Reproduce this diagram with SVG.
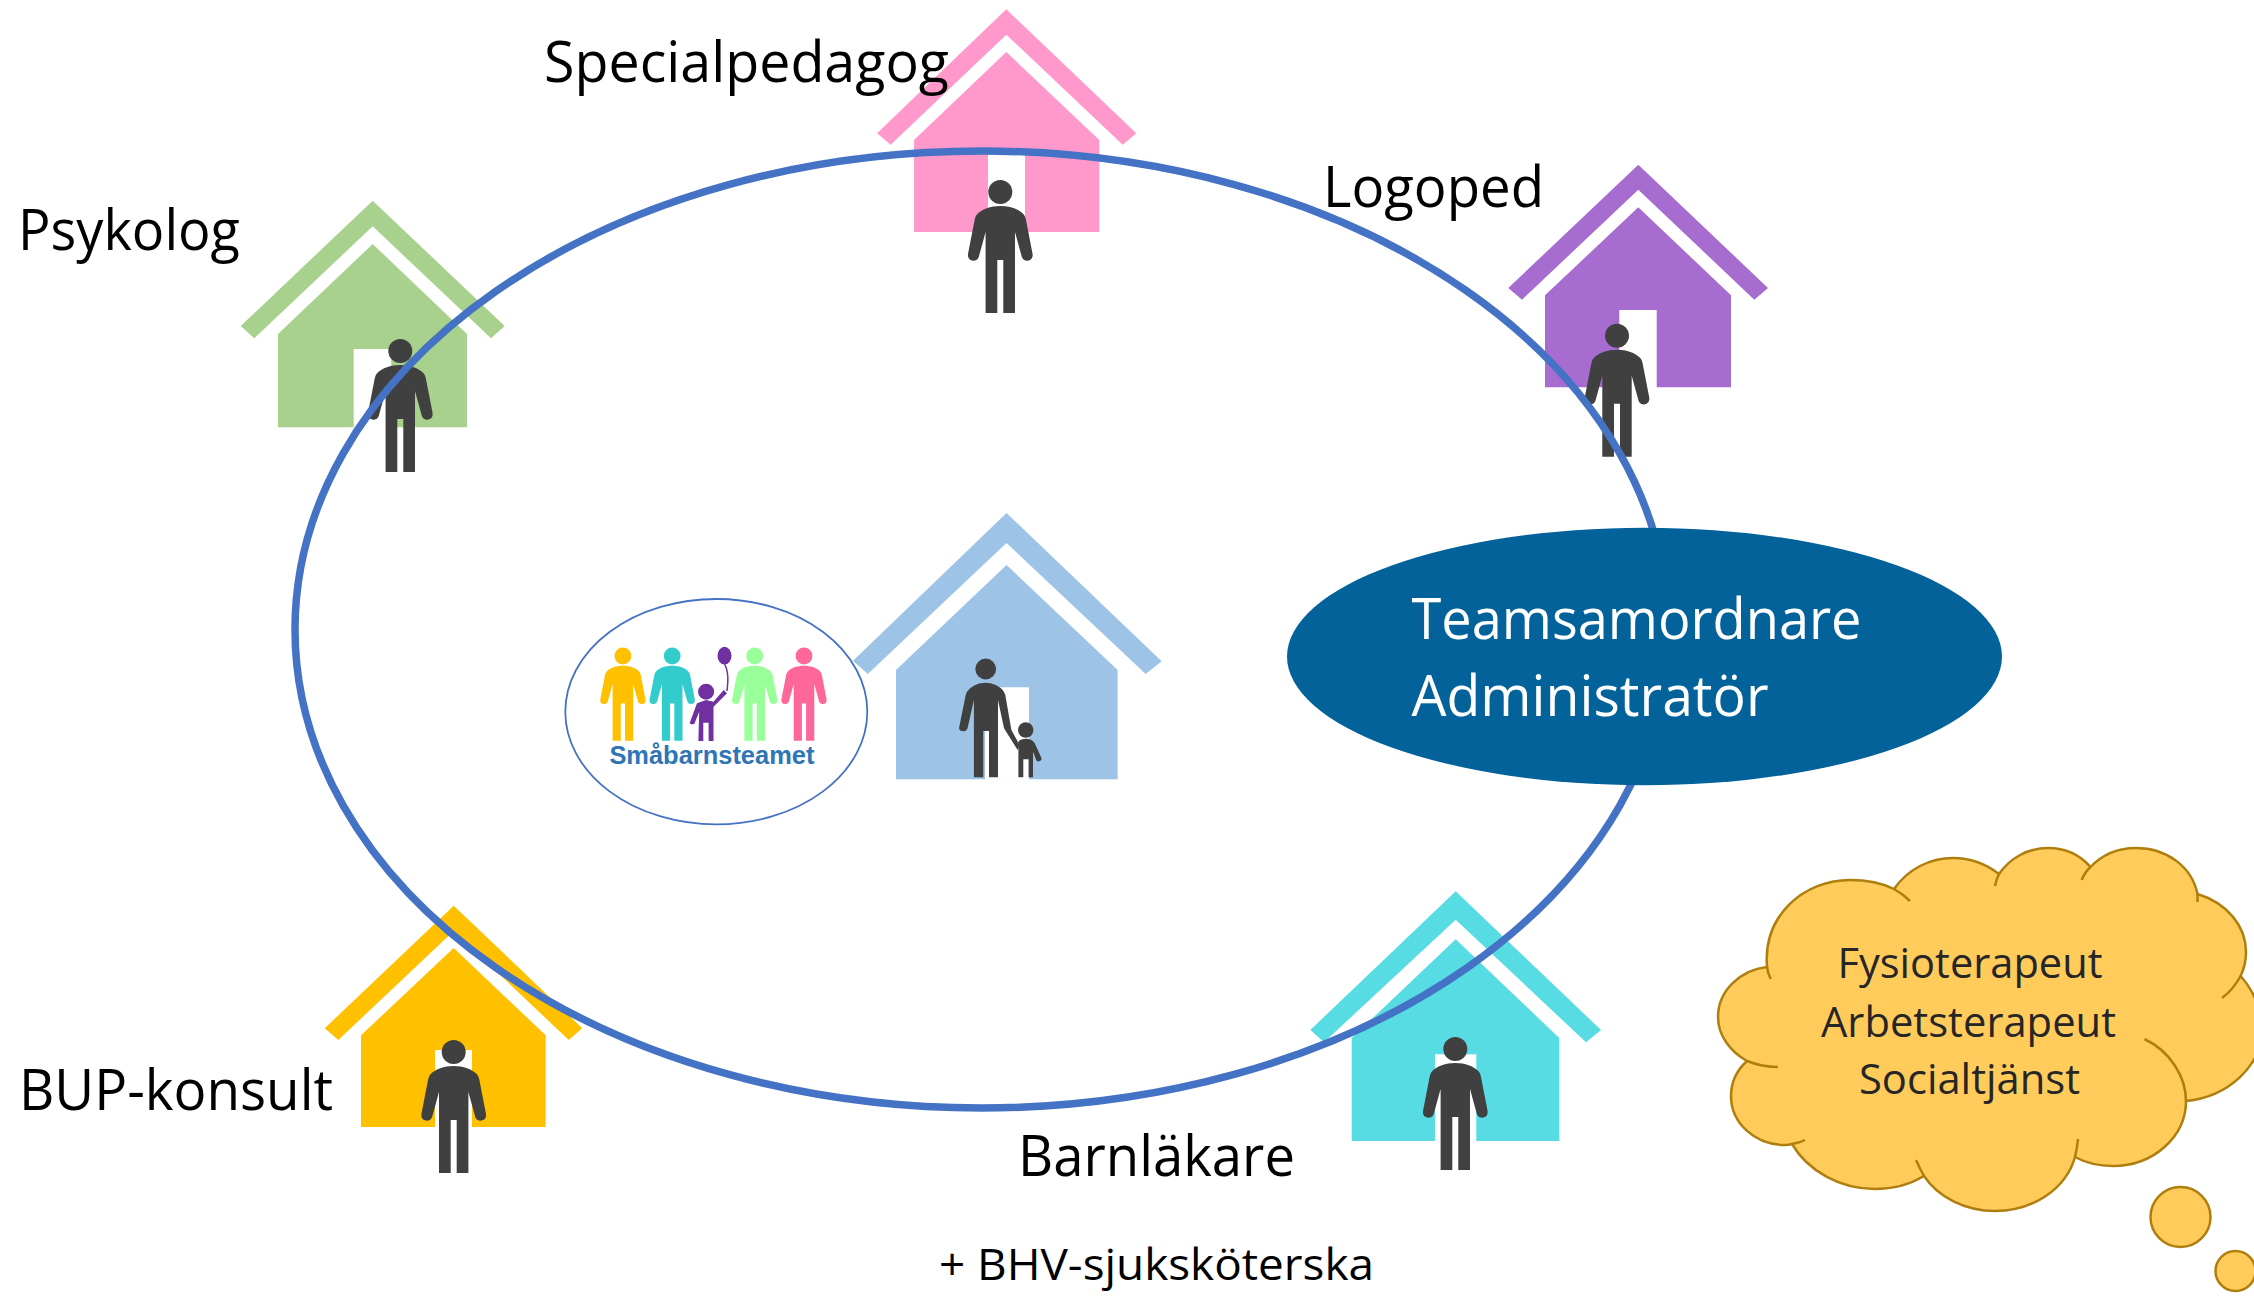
<svg xmlns="http://www.w3.org/2000/svg" xmlns:xlink="http://www.w3.org/1999/xlink" width="2254" height="1297" viewBox="0 0 2254 1297">
<style>
text{font-family:"Open Sans","Liberation Sans",sans-serif;}
.lab{font-size:56px;fill:#000;}
.cloudt{font-size:42px;fill:#262626;}
.white{font-size:56px;fill:#fff;}
.dark{fill:#404040;}
.cl{fill:none;stroke:#AE7F0E;stroke-width:2.5;}
</style>
<defs>
<g id="person"><circle r="12" cx="0" cy="0"/><path d="M0,14C-10,14-18,17-23,22Q-25,24-25.5,27L-32.3,62Q-33,68-27,68.7Q-22,69-21,63L-14.7,40V121H-3V68H3V121H14.7V40L21,63Q22,69 27,68.7Q33,68 32.3,62L25.5,27Q25,24 23,22C18,17 10,14 0,14Z"/></g>
</defs>
<rect width="2254" height="1297" fill="#fff"/>
<g id="node-specialpedagog">
<polygon fill="#FF99CC" points="1006.3,9.3 1136.3,133.3 1122.7,144.7 1006.3,34.7 890.7,144.7 877,133.3"/>
<path fill="#FF99CC" d="M1006.3,52L1099.3,140V232H914V140Z"/>
<rect x="988" y="153" width="37" height="80" fill="#fff"/>
<use xlink:href="#person" href="#person" class="dark" transform="translate(1000.3,192)"/>
</g>
<g id="node-psykolog">
<polygon fill="#A9D18E" points="372.7,200.7 504.7,326 491,338.3 372.7,226.3 254.3,338.3 240.7,326"/>
<path fill="#A9D18E" d="M372.7,244L467,334V427.2H278V334Z"/>
<rect x="353.7" y="349" width="37.5" height="79" fill="#fff"/>
<use xlink:href="#person" href="#person" class="dark" transform="translate(400.3,351)"/>
</g>
<g id="node-logoped">
<polygon fill="#A66CCF" points="1638.3,164.7 1768,288 1754.3,299.7 1638.3,189.7 1522,299.7 1508.3,288"/>
<path fill="#A66CCF" d="M1638.3,207.3L1731,295.3V387.3H1545V295.3Z"/>
<rect x="1619.3" y="310" width="37.4" height="78" fill="#fff"/>
<use xlink:href="#person" href="#person" class="dark" transform="translate(1617,335.7)"/>
</g>
<g id="node-bup">
<polygon fill="#FFC000" points="453.7,905.7 582.3,1028.3 568.7,1040 453.7,931 338.3,1040 324.7,1028.3"/>
<path fill="#FFC000" d="M453.7,948L545.7,1035.3V1127H361V1035.3Z"/>
<rect x="435" y="1050" width="37" height="77.5" fill="#fff"/>
<use xlink:href="#person" href="#person" class="dark" transform="translate(453.7,1052)"/>
</g>
<g id="node-barnlakare">
<polygon fill="#57DCE3" points="1455.7,891.3 1601,1030 1586,1042.3 1455.7,919.7 1324,1042.3 1310.3,1030"/>
<path fill="#57DCE3" d="M1455.7,939.3L1559.3,1038V1141H1351.7V1038Z"/>
<rect x="1435" y="1054.3" width="41.3" height="87" fill="#fff"/>
<use xlink:href="#person" href="#person" class="dark" transform="translate(1455.3,1049)"/>
</g>
<g id="node-center">
<polygon fill="#9DC3E6" points="1006.5,513 1161.6,661.3 1145.7,674 1006.5,543 867.8,674 853,660.7"/>
<path fill="#9DC3E6" d="M1006.5,565L1117.6,670V779.3H896V670Z"/>
<rect x="985" y="687.3" width="44" height="92.5" fill="#fff"/>
<g class="dark">
<circle cx="985.7" cy="669" r="10.4"/>
<path d="M985.7,682.7C978,682.7 972,686 968.6,690Q966,692 965.7,695L959.2,727.3Q958.5,731 963.7,731.3Q967,731 967.8,727.3L973.9,700V777.3H983.3V731H989V777.3H998V700L1004,728.3L1017.6,750L1019.6,745L1011.4,730L1005.3,695Q1004.5,692 1002,689.3C999,686 992,682.7 985.7,682.7Z"/>
<circle cx="1025.7" cy="730" r="7.7"/>
<path d="M1025.7,738.7C1029,738.7 1033,740 1034.7,743.3L1041.6,758.3Q1041.5,761 1038.5,761.5Q1037,761.5 1036.2,760L1033,751.7V777.3H1028.6V759.3H1023.3V777.3H1018.4V741.7C1020,739.5 1023,738.7 1025.7,738.7Z"/>
</g>
</g>
<g id="connectors">
<ellipse cx="981.5" cy="629.5" rx="686.5" ry="478.5" fill="none" stroke="#4472C4" stroke-width="7.5"/>
</g>
<g id="node-logo">
<ellipse cx="716.3" cy="711.7" rx="151" ry="112.7" fill="#fff" stroke="#4472C4" stroke-width="1.8"/>
<use xlink:href="#person" href="#person" fill="#FFC000" transform="translate(622.9,656) scale(.7)"/>
<use xlink:href="#person" href="#person" fill="#33CCCC" transform="translate(672.2,656) scale(.7)"/>
<use xlink:href="#person" href="#person" fill="#99FF99" transform="translate(754.7,656) scale(.7)"/>
<use xlink:href="#person" href="#person" fill="#FF6699" transform="translate(804,656) scale(.7)"/>
<g fill="#7030A0">
<circle cx="706.1" cy="691.7" r="8"/>
<ellipse cx="724.5" cy="655.7" rx="7" ry="8.9"/>
<path d="M724.5,664C729,672 728,682 727,691" fill="none" stroke="#7030A0" stroke-width="1.5"/>
<path d="M706,700L697,703.3L689.8,722.7Q690,725 694.3,724L699.2,711.7L698.4,741H703.3V722.7H708.6V741H713.5V706.7L727,693.3L723.7,690L713.5,701.7Z"/>
</g>
<text x="609.4" y="764.3" font-size="25" font-weight="700" fill="#2E75B6" style="font-family:'Liberation Sans',Arial,sans-serif" textLength="205" lengthAdjust="spacingAndGlyphs">Småbarnsteamet</text>
</g>
<g id="node-teamsamordnare">
<ellipse cx="1644.5" cy="656.5" rx="357.5" ry="128.7" fill="#03629A"/>
<text class="white" x="1411.5" y="639" textLength="450" lengthAdjust="spacingAndGlyphs">Teamsamordnare</text>
<text class="white" x="1411.5" y="716" textLength="357" lengthAdjust="spacingAndGlyphs">Administratör</text>
</g>
<g id="node-cloud">
<path fill="#FFCC5C" stroke="#AE7F0E" stroke-width="2.5" d="M1767,967C1763,914 1805,880 1850,880C1867,880 1882,883 1894,889C1908,869 1930,858 1953,858C1970,858 1986,864 1999,874C2010,858 2028,848 2048,848C2065,848 2080,855 2090.5,867C2102,855 2118,848 2136,848C2167,848 2192,867 2197.5,894C2227,903 2246,926 2246,952C2246,961 2244,969 2240.6,976C2254,991 2262,1011 2262,1029C2262,1066 2228,1097 2186,1101C2186,1137 2153,1166 2113,1166C2100,1166 2086,1163 2075,1157C2066,1189 2033,1211 1995,1211C1965,1211 1938,1197 1924,1176C1909,1185 1893,1189 1875,1189C1840,1189 1808,1171 1792,1144C1789,1145 1787,1145 1785,1145C1755,1145 1731,1123 1731,1096C1731,1082 1737,1070 1747,1061C1731,1052 1718,1036 1718,1017C1718,991 1740,970 1767,967Z"/>
<path class="cl" d="M1767,967Q1768,974 1770.7,979M1894,889Q1903,894 1910,901M1999,874Q1996,880 1995,886M2090.5,867Q2085,872 2081.6,880M2197.5,894V902M2240.6,976Q2233,990 2222,998M2144.5,1039C2170,1051 2186,1077 2186,1101M2075,1157Q2077,1149 2078,1139M1924,1176Q1920,1169 1916,1160M1792,1144Q1799,1143 1805,1140M1747,1061Q1762,1067 1778,1067"/>
<circle cx="2180.5" cy="1217" r="30" fill="#FFCC5C" stroke="#AE7F0E" stroke-width="2.5"/>
<circle cx="2235.5" cy="1271" r="20" fill="#FFCC5C" stroke="#AE7F0E" stroke-width="2.5"/>
<text class="cloudt" x="1837.5" y="978" textLength="265" lengthAdjust="spacingAndGlyphs">Fysioterapeut</text>
<text class="cloudt" x="1821" y="1036.5" textLength="295" lengthAdjust="spacingAndGlyphs">Arbetsterapeut</text>
<text class="cloudt" x="1859" y="1094" textLength="221" lengthAdjust="spacingAndGlyphs">Socialtjänst</text>
</g>
<g id="labels">
<text class="lab" x="544" y="82" textLength="405" lengthAdjust="spacingAndGlyphs">Specialpedagog</text>
<text class="lab" x="18" y="250" textLength="222" lengthAdjust="spacingAndGlyphs">Psykolog</text>
<text class="lab" x="1323" y="207" textLength="221" lengthAdjust="spacingAndGlyphs">Logoped</text>
<text class="lab" x="19" y="1110" textLength="314" lengthAdjust="spacingAndGlyphs">BUP-konsult</text>
<text class="lab" x="1018" y="1176" textLength="277" lengthAdjust="spacingAndGlyphs">Barnläkare</text>
<text class="lab" x="939" y="1280" style="font-size:44px" textLength="435" lengthAdjust="spacingAndGlyphs">+ BHV-sjuksköterska</text>
</g>
</svg>
